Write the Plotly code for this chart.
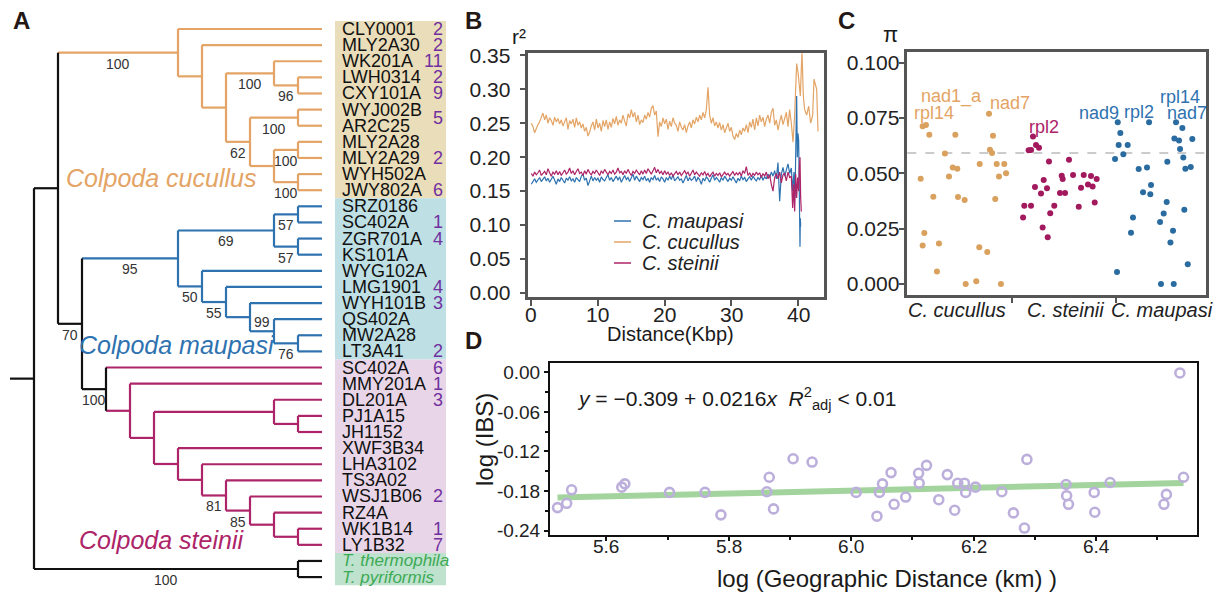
import plotly.graph_objects as go

W, H = 1221, 594
OFF = 8  # the page draws the figure 8 px in from the window corner
FONT = "Arial, Liberation Sans, sans-serif"

ORANGE = "#E3A465"
BLUE = "#2E72B0"
MAGENTA = "#AD2468"
BLACK = "#111111"
GREEN_TXT = "#3DAA55"
PURPLE = "#7030A0"


def P(x):  # window pixel -> paper x
    return (x - OFF) / W


def Q(y):  # window pixel -> paper y
    return 1 - (y - OFF) / H


# ---------------- A: tree ----------------
def node(level, children, support=None, color=None, sub=None, above=False):
    return dict(level=level, children=children, support=support, color=color, sub=sub, above=above)


CUCULLUS = node(6, [
    "CLY0001",
    node(7, [
        "MLY2A30",
        node(8, [
            node(10, ["WK201A", node(11, ["LWH0314", "CXY101A"], "96")], "100"),
            node(9, [
                node(11, ["WYJ002B", "AR2C25"], "100"),
                node(10, [node(11, ["MLY2A28", "MLY2A29"], "100"),
                          node(11, ["WYH502A", "JWY802A"], "100")]),
            ], "62"),
        ]),
    ]),
], "100", color=ORANGE)

MAUPASI = node(6, [
    node(10, [node(11, ["SRZ0186", "SC402A"], "57"),
              node(11, ["ZGR701A", "KS101A"], "57")], "69"),
    node(7, ["WYG102A",
             node(8, ["LMG1901",
                      node(9, ["WYH101B",
                               node(10, ["QS402A", node(11, ["MW2A28", "LT3A41"], "76")], "99", above=True)])],
                  "55")], "50"),
], "95", color=BLUE)

STEINII = node(3, [
    "SC402A",
    node(4, ["MMY201A",
             node(5, [
                 node(10, ["DL201A", node(11, ["PJ1A15", "JH1152"])]),
                 node(6, ["XWF3B34",
                          node(7, ["LHA3102",
                                   node(8, ["TS3A02",
                                            node(9, ["WSJ1B06",
                                                     node(10, ["RZ4A", node(11, ["WK1B14", "LY1B32"])])],
                                                 "85")], "81")])]),
             ]),
             ]),
], "100", color=BLACK, sub=MAGENTA)

OUTGROUP = node(11, ["T. thermophila", "T. pyriformis"], "100")

TREE = node(0, [node(1, [CUCULLUS, node(2, [MAUPASI, STEINII], "70")]), OUTGROUP], color=BLACK)

CLADE_NAMES = ["Colpoda cucullus", "Colpoda maupasi", "Colpoda steinii"]
CLADE_COLORS = [ORANGE, BLUE, MAGENTA]
BOX_COLORS = ["#EADDB9", "#BEDFE4", "#E8D6E8", "#BEE2CD"]

COUNT_ROW = [0, 1, 2, 3, 4, 5.5, 8, 10, 12, 13, 16, 17, 20, 21, 22, 23, 29, 31, 32]
COUNT_VAL = [2, 2, 11, 2, 9, 5, 2, 6, 1, 4, 4, 3, 2, 6, 1, 3, 2, 1, 7]

LEAF_LEVEL = 12
ROOT_STEM = -1

# pixel geometry of the tree panel
X0_PX, LEVEL_PX = 34, 24
Y0_PX, ROW_PX = 29, 16.12


def lv(xpx):
    return (xpx - X0_PX) / LEVEL_PX


def row(ypx):
    return (ypx - Y0_PX) / ROW_PX


leaves = []
segs = {}
supports = []


def add(color, xs, ys):
    s = segs.setdefault(color, ([], []))
    s[0].extend(xs + [None])
    s[1].extend(ys + [None])


def layout(n, parent_level, color):
    if isinstance(n, str):
        i = len(leaves)
        leaves.append(n)
        add(color, [parent_level, LEAF_LEVEL], [i, i])
        return i
    c = n["color"] or color
    ys = [layout(ch, n["level"], n["sub"] or c) for ch in n["children"]]
    y = (ys[0] + ys[-1]) / 2
    add(c, [parent_level, n["level"]], [y, y])
    add(c, [n["level"], n["level"]], [ys[0], ys[-1]])
    if n["support"]:
        supports.append(((parent_level + n["level"]) / 2, y, n["support"], n["above"]))
    return y


def count_leaves(n):
    return 1 if isinstance(n, str) else sum(count_leaves(c) for c in n["children"])


layout(TREE, ROOT_STEM, BLACK)

# ---------------- B: LD decay ----------------
STEP = 0.25
R2_CUCULLUS = [
    0.250, 0.245, 0.236, 0.243, 0.248, 0.252, 0.258, 0.265, 0.255, 0.262, 0.250, 0.258,
    0.254, 0.247, 0.259, 0.252, 0.257, 0.249, 0.255, 0.246, 0.252, 0.258, 0.241, 0.254,
    0.249, 0.256, 0.244, 0.258, 0.247, 0.252, 0.243, 0.249, 0.238, 0.244, 0.231, 0.237,
    0.246, 0.252, 0.240, 0.256, 0.243, 0.250, 0.238, 0.254, 0.245, 0.255, 0.241, 0.252,
    0.244, 0.257, 0.249, 0.260, 0.247, 0.255, 0.250, 0.262, 0.253, 0.246, 0.264, 0.258,
    0.270, 0.259, 0.266, 0.252, 0.262, 0.248, 0.255, 0.251, 0.262, 0.256, 0.266, 0.259,
    0.272, 0.276, 0.262, 0.268, 0.230, 0.252, 0.245, 0.258, 0.249, 0.256, 0.241, 0.253,
    0.245, 0.258, 0.250, 0.247, 0.238, 0.252, 0.244, 0.240, 0.248, 0.236, 0.246, 0.252,
    0.243, 0.255, 0.249, 0.259, 0.252, 0.262, 0.255, 0.266, 0.258, 0.270, 0.303, 0.262,
    0.250, 0.258, 0.246, 0.252, 0.243, 0.251, 0.240, 0.248, 0.236, 0.245, 0.250, 0.238,
    0.244, 0.231, 0.226, 0.235, 0.229, 0.240, 0.233, 0.243, 0.238, 0.248, 0.236, 0.252,
    0.244, 0.256, 0.240, 0.258, 0.246, 0.262, 0.252, 0.259, 0.245, 0.256, 0.262, 0.250,
    0.266, 0.272, 0.247, 0.255, 0.240, 0.252, 0.262, 0.248, 0.258, 0.266, 0.245, 0.270,
    0.250,
]
R2_MAUPASI = [
    0.160, 0.165, 0.168, 0.163, 0.166, 0.170, 0.164, 0.168, 0.171, 0.165, 0.169, 0.163,
    0.167, 0.172, 0.166, 0.160, 0.168, 0.164, 0.170, 0.165, 0.162, 0.169, 0.166, 0.171,
    0.165, 0.168, 0.163, 0.170, 0.167, 0.164, 0.172, 0.175, 0.166, 0.169, 0.158, 0.167,
    0.172, 0.165, 0.170, 0.166, 0.169, 0.163, 0.171, 0.167, 0.165, 0.170, 0.174, 0.166,
    0.170, 0.164, 0.168, 0.172, 0.166, 0.171, 0.163, 0.169, 0.173, 0.167, 0.170, 0.164,
    0.171, 0.175, 0.166, 0.172, 0.168, 0.164, 0.170, 0.167, 0.172, 0.165, 0.169, 0.163,
    0.170, 0.167, 0.173, 0.166, 0.169, 0.164, 0.171, 0.168, 0.163, 0.170, 0.166, 0.172,
    0.167, 0.174, 0.165, 0.169, 0.171, 0.166, 0.168, 0.162, 0.169, 0.173, 0.165, 0.170,
    0.166, 0.168, 0.172, 0.164, 0.170, 0.167, 0.160, 0.169, 0.165, 0.171, 0.168, 0.163,
    0.169, 0.174, 0.166, 0.170, 0.167, 0.163, 0.170, 0.166, 0.172, 0.168, 0.164, 0.169,
    0.166, 0.171, 0.167, 0.162, 0.169, 0.165, 0.172, 0.167, 0.170, 0.164, 0.168, 0.171,
    0.166, 0.172, 0.168, 0.165, 0.170, 0.167, 0.173, 0.166, 0.171, 0.168, 0.175, 0.170,
    0.178, 0.172, 0.180, 0.168, 0.192, 0.135, 0.175, 0.185, 0.172, 0.180, 0.190, 0.176,
    0.184,
]
R2_STEINII = [
    0.176, 0.172, 0.178, 0.174, 0.177, 0.181, 0.173, 0.176, 0.179, 0.174, 0.183, 0.177,
    0.172, 0.178, 0.175, 0.180, 0.174, 0.179, 0.173, 0.177, 0.181, 0.175, 0.178, 0.184,
    0.176, 0.180, 0.174, 0.179, 0.183, 0.176, 0.178, 0.173, 0.180, 0.175, 0.182, 0.177,
    0.174, 0.179, 0.176, 0.181, 0.177, 0.173, 0.180, 0.176, 0.182, 0.177, 0.174, 0.179,
    0.176, 0.181, 0.175, 0.178, 0.184, 0.177, 0.179, 0.174, 0.180, 0.176, 0.182, 0.177,
    0.173, 0.179, 0.176, 0.181, 0.177, 0.174, 0.180, 0.175, 0.181, 0.176, 0.183, 0.178,
    0.175, 0.180, 0.185, 0.177, 0.182, 0.176, 0.179, 0.174, 0.180, 0.175, 0.178, 0.173,
    0.177, 0.172, 0.176, 0.179, 0.174, 0.178, 0.173, 0.176, 0.180, 0.175, 0.178, 0.172,
    0.176, 0.181, 0.174, 0.178, 0.175, 0.172, 0.177, 0.174, 0.179, 0.173, 0.176, 0.171,
    0.175, 0.178, 0.172, 0.176, 0.173, 0.177, 0.171, 0.175, 0.178, 0.174, 0.176, 0.172,
    0.175, 0.179, 0.173, 0.177, 0.174, 0.178, 0.172, 0.180, 0.176, 0.186, 0.173, 0.177,
    0.171, 0.176, 0.173, 0.178, 0.174, 0.177, 0.170, 0.176, 0.172, 0.178, 0.168, 0.174,
    0.160, 0.150, 0.170, 0.176, 0.168, 0.178, 0.162, 0.174, 0.176, 0.165, 0.178, 0.170,
    0.172,
]
TAIL_CUC_X = [39.25, 39.5, 39.65, 39.8, 40.0, 40.2, 40.35, 40.5, 40.6, 40.8, 41.0, 41.3, 41.6,
              41.9, 42.2, 42.4, 42.6, 42.8, 43.0]
TAIL_CUC_Y = [0.222, 0.262, 0.300, 0.338, 0.325, 0.300, 0.290, 0.330, 0.355, 0.290, 0.270, 0.262,
              0.275, 0.250, 0.262, 0.315, 0.305, 0.300, 0.238]
TAIL_MAU_X = [39.2, 39.4, 39.55, 39.7, 39.8, 39.9, 40.0, 40.1, 40.2, 40.3, 40.35, 40.4]
TAIL_MAU_Y = [0.150, 0.178, 0.140, 0.210, 0.290, 0.200, 0.235, 0.225, 0.160, 0.068, 0.110, 0.098]
TAIL_STE_X = [39.2, 39.35, 39.5, 39.65, 39.8, 39.95, 40.1, 40.2, 40.3, 40.4, 40.5]
TAIL_STE_Y = [0.125, 0.160, 0.120, 0.175, 0.140, 0.170, 0.150, 0.185, 0.200, 0.140, 0.120]

LD_NAMES = ["C. maupasi", "C. cucullus", "C. steinii"]
DIST_TICKS = [0, 10, 20, 30, 40]

# ---------------- C: nucleotide diversity ----------------
SPECIES_C = ["C. cucullus", "C. steinii", "C. maupasi"]
CUC_X = [0.640, 0.672, 0.704, 0.955, 1.280, 1.318, 1.289, 1.309, 0.855, 0.930, 0.974, 1.190,
         1.354, 1.427, 1.444, 1.376, 0.894, 0.621, 0.743, 0.981, 1.045, 1.340, 0.656, 0.640,
         0.797, 1.186, 1.263, 0.778, 1.055, 1.157, 1.395]
CUC_PI = [0.0713, 0.0719, 0.0675, 0.0674, 0.0770, 0.0670, 0.0607, 0.0592, 0.0590, 0.0527,
          0.0521, 0.0542, 0.0542, 0.0542, 0.0501, 0.0486, 0.0486, 0.0476, 0.0394, 0.0393,
          0.0379, 0.0384, 0.0230, 0.0174, 0.0183, 0.0166, 0.0144, 0.0056, 0.0, 0.0012, 0.0]
STE_X = [1.704, 1.662, 1.685, 1.733, 1.762, 1.858, 1.807, 1.723, 1.839, 1.781, 1.620, 1.685,
         1.909, 1.870, 1.608, 1.797, 1.846, 2.051, 1.981, 1.990, 2.090, 2.193, 2.263, 2.318,
         2.234, 2.279, 2.167, 1.964, 2.013, 2.145, 2.299]
STE_PI = [0.0667, 0.0604, 0.0606, 0.0628, 0.0616, 0.0554, 0.0470, 0.0438, 0.0433, 0.0409,
          0.0353, 0.0353, 0.0353, 0.0320, 0.0300, 0.0255, 0.0211, 0.0562, 0.0489, 0.0474,
          0.0492, 0.0492, 0.0488, 0.0474, 0.0450, 0.0441, 0.0435, 0.0411, 0.0411, 0.0349, 0.0368]
MAU_X = [2.521, 2.546, 2.530, 2.617, 2.575, 2.495, 2.823, 2.803, 2.723, 2.842, 2.835, 2.765,
         2.668, 2.649, 2.514, 3.083, 3.144, 3.067, 3.112, 3.240, 3.122, 3.153, 2.999, 3.173,
         3.225, 2.993, 2.964, 2.929, 3.163, 3.054, 3.029, 3.196, 2.938, 3.061]
MAU_PI = [0.0731, 0.0682, 0.0628, 0.0628, 0.0586, 0.0565, 0.0731, 0.0527, 0.0520, 0.0447,
          0.0406, 0.0414, 0.0300, 0.0231, 0.0054, 0.0731, 0.0705, 0.0657, 0.0649, 0.0655,
          0.0610, 0.0572, 0.0553, 0.0521, 0.0529, 0.0371, 0.0318, 0.0280, 0.0335, 0.0241,
          0.0187, 0.0089, 0.0, 0.0]
PI_THRESHOLD = 0.0592
GENE_LABELS = [("nad1_a", ORANGE), ("rpl14", ORANGE), ("nad7", ORANGE), ("rpl2", MAGENTA),
               ("nad9", BLUE), ("rpl2", BLUE), ("rpl14", BLUE), ("nad7", BLUE)]
GENE_LABEL_PX = [(951.7, 96.7), (933.5, 113), (1009.5, 103.3), (1043.7, 126.7),
                 (1098.8, 113.3), (1138.7, 111.7), (1179.7, 96.7), (1187, 113.3)]
SPECIES_LABEL_PX = [957, 1065, 1162]

# ---------------- D: IBD ----------------
GEO_DIST = [5.520, 5.535, 5.543, 5.625, 5.630, 5.703, 5.761, 5.787, 5.862, 5.866, 5.873, 5.905,
            5.936, 6.008, 6.042, 6.046, 6.051, 6.065, 6.070, 6.089, 6.110, 6.111, 6.123, 6.143,
            6.157, 6.169, 6.174, 6.185, 6.187, 6.203, 6.246, 6.265, 6.283, 6.287, 6.351, 6.352,
            6.355, 6.397, 6.398, 6.423, 6.511, 6.515, 6.537, 6.543]
LOG_IBS = [-0.205, -0.1985, -0.178, -0.174, -0.169, -0.182, -0.182, -0.216, -0.181, -0.159,
           -0.207, -0.131, -0.136, -0.182, -0.218, -0.182, -0.169, -0.152, -0.200, -0.189,
           -0.153, -0.168, -0.141, -0.193, -0.155, -0.209, -0.168, -0.168, -0.182, -0.174,
           -0.181, -0.213, -0.236, -0.132, -0.170, -0.187, -0.200, -0.182, -0.212, -0.167,
           -0.200, -0.185, -0.001, -0.159]
FIT_INTERCEPT = -0.309
FIT_SLOPE = 0.0216
GEO_TICKS = [5.6, 5.8, 6.0, 6.2, 6.4]

fig = go.Figure()

# tree boxes
groups = [CUCULLUS, MAUPASI, STEINII, OUTGROUP]
start = 0
shapes = []
for g, col in zip(groups, BOX_COLORS):
    n = count_leaves(g)
    shapes.append(dict(type="rect", xref="x", yref="y", x0=lv(335), x1=lv(446),
                       y0=start - 0.5, y1=start + n - 0.5, fillcolor=col, line=dict(width=0),
                       layer="below"))
    start += n

for col, (xs, ys) in segs.items():
    fig.add_trace(go.Scatter(x=xs, y=ys, mode="lines", line=dict(color=col, width=2.2),
                             hoverinfo="skip", showlegend=False, xaxis="x", yaxis="y"))

ann = []
for i, name in enumerate(leaves):
    if name.startswith("T. "):
        ann.append(dict(x=lv(340), y=i, xref="x", yref="y", text="<i>" + name + "</i>",
                        xanchor="left", showarrow=False, font=dict(size=17, color=GREEN_TXT)))
    else:
        ann.append(dict(x=lv(340), y=i, xref="x", yref="y", text=name, xanchor="left",
                        showarrow=False, font=dict(size=18, color=BLACK)))
for r, v in zip(COUNT_ROW, COUNT_VAL):
    ann.append(dict(x=lv(445), y=r, xref="x", yref="y", text=str(v), xanchor="right",
                    showarrow=False, font=dict(size=18, color=PURPLE)))
for x, y, s, above in supports:
    ann.append(dict(x=x, y=y - 0.55 if above else y + 0.68, xref="x", yref="y", text=s,
                    showarrow=False, font=dict(size=14, color="#333333")))


# free text in window pixels
def txt(x, y, s, size, color="#1a1a1a", **kw):
    d = dict(x=P(x), y=Q(y), xref="paper", yref="paper", text=s, showarrow=False,
             xanchor="center", yanchor="middle", font=dict(size=size, color=color))
    d.update(kw)
    ann.append(d)


def xtick_labels(axis, vals, texts, ypx, size):
    for v, t in zip(vals, texts):
        ann.append(dict(x=v, y=Q(ypx), xref=axis, yref="paper", text=t, showarrow=False,
                        xanchor="center", yanchor="middle", font=dict(size=size, color="#222")))


CLADE_PX = [(161, 178), (177, 345), (161.5, 540)]
for name, col, (cx, cy) in zip(CLADE_NAMES, CLADE_COLORS, CLADE_PX):
    txt(cx, cy, "<i>" + name + "</i>", 25, color=col)

# B traces
b_series = [
    (LD_NAMES[0], R2_MAUPASI, TAIL_MAU_X, TAIL_MAU_Y, BLUE),
    (LD_NAMES[1], R2_CUCULLUS, TAIL_CUC_X, TAIL_CUC_Y, ORANGE),
    (LD_NAMES[2], R2_STEINII, TAIL_STE_X, TAIL_STE_Y, MAGENTA),
]
for name, vals, tx, ty, col in [b_series[1], b_series[0], b_series[2]]:
    xs = [round(i * STEP, 2) for i in range(len(vals))] + tx
    fig.add_trace(go.Scatter(x=xs, y=vals + ty, mode="lines", name=name,
                             line=dict(color=col, width=1.2), showlegend=False,
                             xaxis="x2", yaxis="y2"))
LEG_Y = [221, 242, 263]
for (name, _, _, _, col), ly in zip(b_series, LEG_Y):
    shapes.append(dict(type="line", xref="paper", yref="paper", x0=P(614), x1=P(631),
                       y0=Q(ly), y1=Q(ly), line=dict(color=col, width=1.5)))
    txt(640, ly, "<i>" + name + "</i>", 20, color="#222", xanchor="left")
xtick_labels("x2", DIST_TICKS, [str(v) for v in DIST_TICKS], 314, 21)

# C traces
for xs, ys, col, nm in [(CUC_X, CUC_PI, "#D9A05E", SPECIES_C[0]),
                        (STE_X, STE_PI, "#A3195E", SPECIES_C[1]),
                        (MAU_X, MAU_PI, "#2A6BA0", SPECIES_C[2])]:
    fig.add_trace(go.Scatter(x=xs, y=ys, mode="markers", name=nm, showlegend=False,
                             marker=dict(color=col, size=6), xaxis="x3", yaxis="y3"))
shapes.append(dict(type="line", xref="x3 domain", yref="y3", x0=0, x1=1, y0=PI_THRESHOLD,
                   y1=PI_THRESHOLD, line=dict(color="#BBBBBB", width=1.3, dash="dash"),
                   layer="below"))
for (label, col), (gx, gy) in zip(GENE_LABELS, GENE_LABEL_PX):
    txt(gx, gy, label, 18, color=col)
for name, sx in zip(SPECIES_C, SPECIES_LABEL_PX):
    txt(sx, 310, "<i>" + name + "</i>", 20, color="#222")

# D traces
fit_x = [min(GEO_DIST), max(GEO_DIST)]
fig.add_trace(go.Scatter(x=fit_x, y=[FIT_INTERCEPT + FIT_SLOPE * v for v in fit_x], mode="lines",
                         line=dict(color="#A3D49D", width=6), showlegend=False,
                         xaxis="x4", yaxis="y4"))
fig.add_trace(go.Scatter(x=GEO_DIST, y=LOG_IBS, mode="markers", showlegend=False,
                         marker=dict(symbol="circle-open", size=9, color="#BCAFDB",
                                     line=dict(width=2.6)),
                         xaxis="x4", yaxis="y4"))
xtick_labels("x4", GEO_TICKS, ["%.1f" % v for v in GEO_TICKS], 546, 19)

for letter, lx, ly in [("A", 21, 21), ("B", 473, 20), ("C", 846, 20), ("D", 473, 340)]:
    txt(lx, ly, "<b>" + letter + "</b>", 24, color="#231815")
txt(519, 36, "r²", 21)
txt(890, 34, "π", 22)
txt(670, 334, "Distance(Kbp)", 20)
txt(887, 578, "log (Geographic Distance (km) )", 24)
txt(484, 440, "log (IBS)", 24, textangle=-90)
txt(575, 398, "<i>y</i> = −0.309 + 0.0216<i>x</i>  <i>R</i><sup>2</sup><sub>adj</sub> < 0.01",
    21, xanchor="left")

axis_common = dict(showgrid=False, zeroline=False, showline=True, mirror=True,
                   ticks="outside", tickfont=dict(size=21, color="#222"))

fig.update_layout(
    width=W, height=H, margin=dict(l=0, r=0, t=0, b=0, autoexpand=False),
    paper_bgcolor="white", plot_bgcolor="rgba(0,0,0,0)",
    font=dict(family=FONT, color="#222"),
    showlegend=False,
    xaxis=dict(domain=[0, P(460)], range=[lv(OFF), lv(460)], visible=False),
    yaxis=dict(domain=[0, 1], range=[row(H + OFF), row(OFF)], visible=False),
    xaxis2=dict(axis_common, domain=[P(528.3), P(824)], range=[-0.45, 43.9], anchor="y2",
                tickvals=DIST_TICKS, showticklabels=False, linecolor="#555", linewidth=2.5,
                tickcolor="#555", tickwidth=2, ticklen=6),
    yaxis2=dict(axis_common, domain=[Q(297), Q(53.3)], range=[-0.006, 0.353], anchor="x2",
                tickvals=[0, 0.05, 0.1, 0.15, 0.2, 0.25, 0.3, 0.35], tickformat=".2f",
                ticklabelstandoff=5,
                linecolor="#555", linewidth=2.5, tickcolor="#555", tickwidth=2, ticklen=6),
    xaxis3=dict(axis_common, domain=[P(907.3), P(1206)], range=[0.492, 3.372], anchor="y3",
                tickvals=[1.5, 2.5], showticklabels=False, ticklen=5, tickwidth=2,
                tickcolor="#555", linecolor="#555", linewidth=2.5),
    yaxis3=dict(axis_common, domain=[Q(295), Q(51.7)], range=[-0.005, 0.105], anchor="x3",
                tickvals=[0, 0.025, 0.05, 0.075, 0.1], tickformat=".3f",
                ticklabelstandoff=-5,
                linecolor="#555", linewidth=2.5, tickcolor="#555", tickwidth=2, ticklen=6),
    xaxis4=dict(axis_common, domain=[P(550), P(1196.7)], range=[5.5077, 6.5645], anchor="y4",
                tickvals=GEO_TICKS, showticklabels=False,
                minor=dict(tickmode="array", tickvals=[5.7, 5.9, 6.1, 6.3, 6.5], ticks="outside",
                           ticklen=3, tickwidth=1.5, tickcolor="#111"),
                linecolor="#111", linewidth=2, tickcolor="#111", tickwidth=1.5, ticklen=4),
    yaxis4=dict(axis_common, domain=[Q(535), Q(363.3)], range=[-0.2465, 0.0136], anchor="x4",
                tickvals=[0, -0.06, -0.12, -0.18, -0.24],
                ticktext=["0.00", "-0.06", "-0.12", "-0.18", "-0.24"],
                tickfont=dict(size=19, color="#222"),
                minor=dict(tickmode="array", tickvals=[-0.03, -0.09, -0.15, -0.21],
                           ticks="outside", ticklen=3, tickwidth=1.5, tickcolor="#111"),
                linecolor="#111", linewidth=2, tickcolor="#111", tickwidth=1.5, ticklen=4),
    shapes=shapes,
    annotations=ann,
)

fig.write_html("out.html")
